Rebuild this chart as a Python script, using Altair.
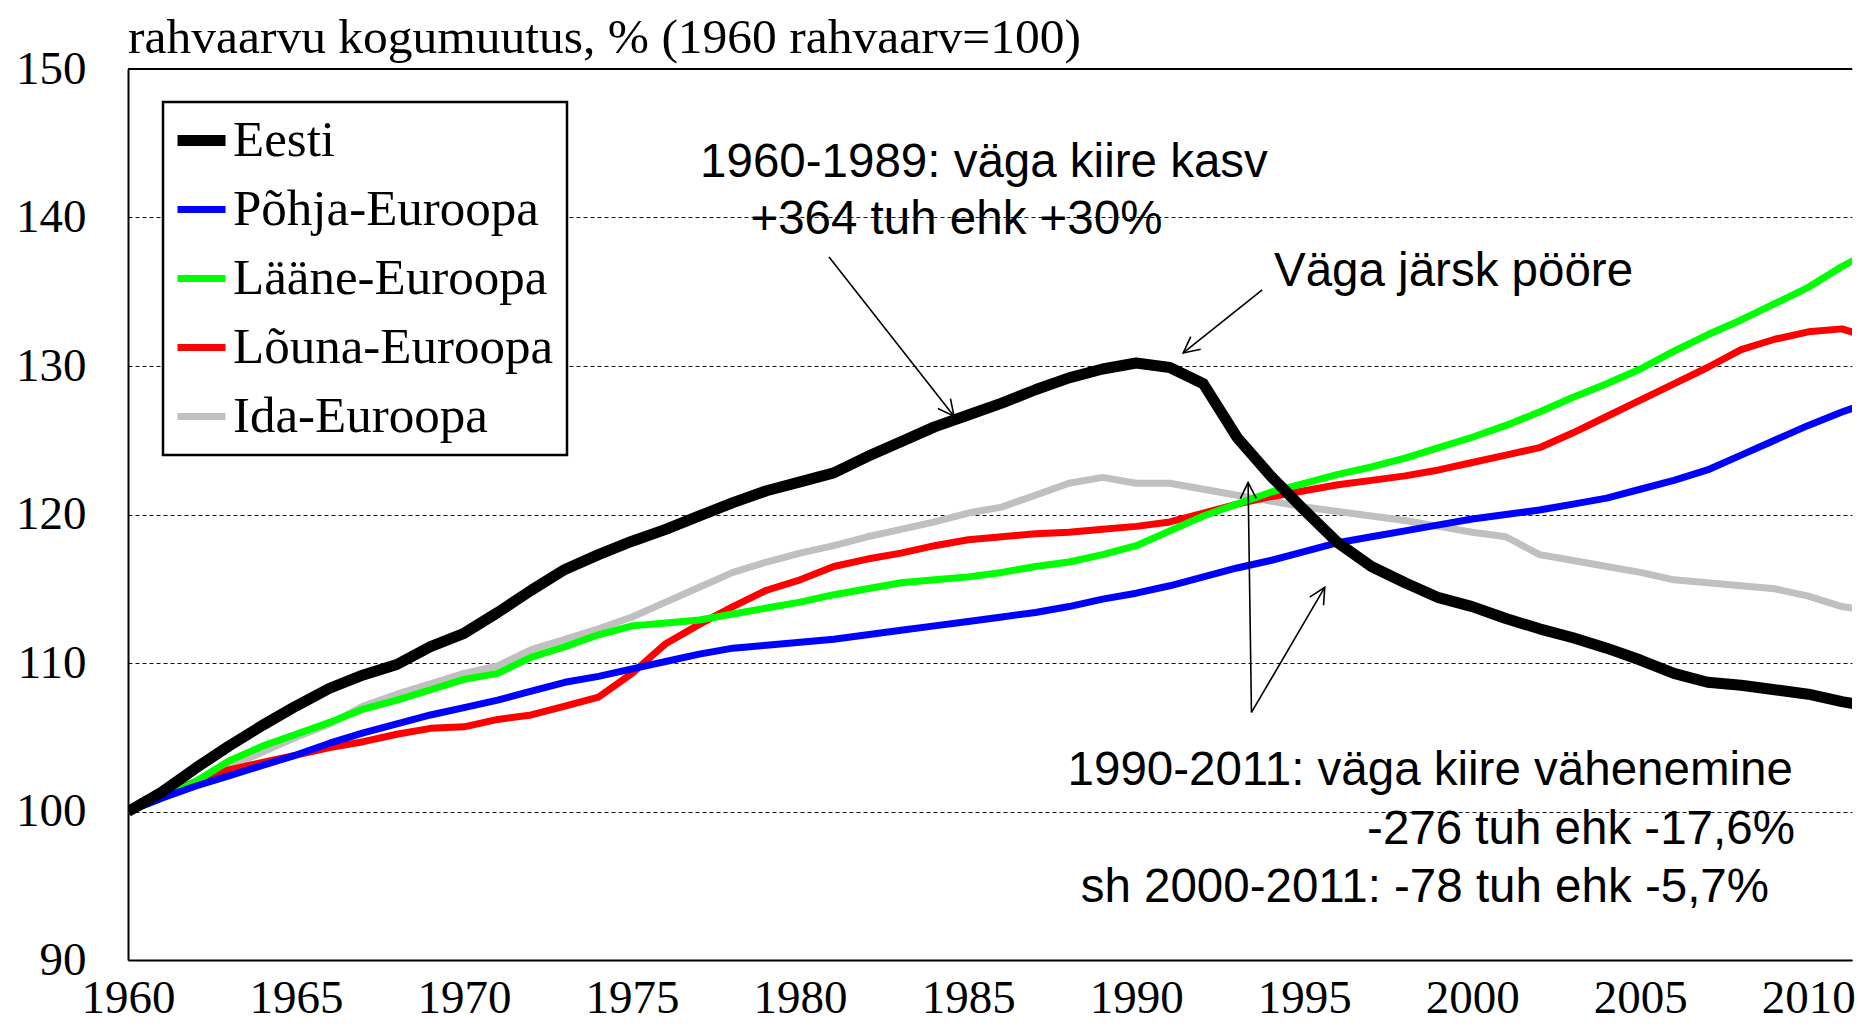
import math
import altair as alt
import pandas as pd

# ---------------- data ----------------
years = list(range(1960, 2013))

eesti = [100.0, 101.3, 102.9, 104.4, 105.8, 107.1, 108.3, 109.2, 109.9, 111.1,
         112.0, 113.4, 114.9, 116.3, 117.3, 118.2, 119.0, 119.9, 120.8, 121.6,
         122.2, 122.8, 123.9, 124.9, 125.9, 126.7, 127.5, 128.4, 129.2, 129.8,
         130.2, 129.9, 128.8, 125.2, 122.6, 120.3, 118.1, 116.5, 115.4, 114.4,
         113.8, 113.0, 112.3, 111.7, 111.0, 110.2, 109.3, 108.7, 108.5, 108.2,
         107.9, 107.4, 107.0]
pohja = [100.0, 100.9, 101.7, 102.4, 103.1, 103.8, 104.6, 105.3, 105.9, 106.5,
         107.0, 107.5, 108.1, 108.7, 109.1, 109.6, 110.1, 110.6, 111.0, 111.2,
         111.4, 111.6, 111.9, 112.2, 112.5, 112.8, 113.1, 113.4, 113.8, 114.3,
         114.7, 115.2, 115.8, 116.4, 116.9, 117.5, 118.1, 118.5, 118.9, 119.3,
         119.7, 120.0, 120.3, 120.7, 121.1, 121.7, 122.3, 123.0, 124.0, 125.0,
         126.0, 126.9, 127.7]
laane = [100.0, 100.9, 102.0, 103.4, 104.4, 105.2, 106.0, 106.9, 107.5, 108.2,
         108.9, 109.3, 110.4, 111.1, 111.9, 112.5, 112.7, 112.9, 113.3, 113.7,
         114.1, 114.6, 115.0, 115.4, 115.6, 115.8, 116.1, 116.5, 116.8, 117.3,
         117.9, 118.9, 119.9, 120.7, 121.5, 122.1, 122.7, 123.2, 123.8, 124.5,
         125.2, 126.0, 126.9, 127.9, 128.8, 129.8, 131.0, 132.1, 133.1, 134.2,
         135.3, 136.7, 137.9]
louna = [100.0, 101.0, 102.0, 102.8, 103.3, 103.8, 104.3, 104.7, 105.2, 105.6,
         105.7, 106.2, 106.5, 107.1, 107.7, 109.3, 111.3, 112.6, 113.8, 114.9,
         115.6, 116.5, 117.0, 117.4, 117.9, 118.3, 118.5, 118.7, 118.8, 119.0,
         119.2, 119.5, 120.1, 120.7, 121.2, 121.6, 122.0, 122.3, 122.6, 123.0,
         123.5, 124.0, 124.5, 125.5, 126.6, 127.7, 128.8, 129.9, 131.1, 131.8,
         132.3, 132.5, 131.8]
ida = [100.0, 101.1, 102.0, 103.0, 104.0, 105.0, 105.9, 107.1, 107.9, 108.6,
       109.3, 109.8, 110.9, 111.6, 112.3, 113.1, 114.1, 115.1, 116.1, 116.8,
       117.4, 117.9, 118.5, 119.0, 119.5, 120.1, 120.5, 121.3, 122.1, 122.5,
       122.1, 122.1, 121.7, 121.3, 120.9, 120.5, 120.2, 119.9, 119.6, 119.2,
       118.8, 118.5, 117.3, 116.9, 116.5, 116.1, 115.6, 115.4, 115.2, 115.0,
       114.5, 113.8, 113.5]

series_names = ["Eesti", "Põhja-Euroopa", "Lääne-Euroopa", "Lõuna-Euroopa", "Ida-Euroopa"]
series_values = [eesti, pohja, laane, louna, ida]

x_ticks = [1960, 1965, 1970, 1975, 1980, 1985, 1990, 1995, 2000, 2005, 2010]
y_ticks = [90, 100, 110, 120, 130, 140, 150]

title_text = "rahvaarvu kogumuutus, % (1960 rahvaarv=100)"

note_center_text = ["1960-1989: väga kiire kasv", "+364 tuh ehk +30%"]
note_center_x = [1985.47, 1984.65]
note_center_y = [143.67, 139.83]

note_left_text = ["Väga järsk pööre"]
note_left_x = [1994.10]
note_left_y = [136.33]

note_right_text = ["1990-2011: väga kiire vähenemine", "-276 tuh ehk -17,6%",
                   "sh 2000-2011: -78 tuh ehk -5,7%"]
note_right_x = [2009.54, 2009.60, 2008.83]
note_right_y = [102.73, 98.75, 94.85]

arrow_x1 = [1980.86, 1993.75, 1993.43, 1993.43]
arrow_y1 = [137.34, 135.12, 106.67, 106.67]
arrow_x2 = [1984.58, 1991.40, 1993.33, 1995.61]
arrow_y2 = [126.62, 130.88, 122.15, 115.09]

# ---------------- styles ----------------
series_colors = ["#000000", "#0000FF", "#00FF00", "#FF0000", "#C0C0C0"]
line_widths = {"Eesti": 11, "Põhja-Euroopa": 7, "Lääne-Euroopa": 7,
               "Lõuna-Euroopa": 7, "Ida-Euroopa": 7}
draw_order = ["Ida-Euroopa", "Lõuna-Euroopa", "Lääne-Euroopa", "Põhja-Euroopa", "Eesti"]

SERIF = "Liberation Serif"
SANS = "Liberation Sans"

X_MIN, X_MAX = 1960, 2011.3
Y_MIN, Y_MAX = 90, 150
W, H = 1724, 891

rows = []
for name, vals in zip(series_names, series_values):
    for yr, v in zip(years, vals):
        rows.append({"series": name, "year": yr, "value": v})
df = pd.DataFrame(rows)

x_scale = alt.Scale(domain=[X_MIN, X_MAX], nice=False, zero=False)
y_scale = alt.Scale(domain=[Y_MIN, Y_MAX], nice=False, zero=False)

x_axis = alt.Axis(values=x_ticks, format="d", title=None, grid=False, ticks=False,
                  domain=True, domainColor="black", domainWidth=2,
                  labelFont=SERIF, labelFontSize=47, labelColor="black",
                  labelPadding=15, labelFlush=False, labelOverlap=False)
y_axis = alt.Axis(values=y_ticks, title=None, grid=True, gridColor="#111111",
                  gridDash=[4, 3], gridWidth=1, ticks=False,
                  domain=True, domainColor="black", domainWidth=2,
                  labelFont=SERIF, labelFontSize=47, labelColor="black",
                  labelPadding=42, labelOverlap=False)


def X(field):
    return alt.X(field, scale=x_scale, axis=x_axis)


def Y(field):
    return alt.Y(field, scale=y_scale, axis=y_axis)


legend = alt.Legend(
    title=None, orient="none", legendX=35, legendY=33,
    symbolType="stroke", symbolSize=2304,
    symbolStrokeWidth=alt.ExprRef("datum.value === 'Eesti' ? 11 : 7"),
    labelFont=SERIF, labelFontSize=51, labelColor="black",
    labelOffset=6, labelLimit=0, padding=13, rowPadding=17,
    strokeColor="black", fillColor="white",
)
color = alt.Color("series:N", scale=alt.Scale(domain=series_names, range=series_colors),
                  legend=legend)

layers = []
for name in draw_order:
    layers.append(
        alt.Chart(df)
        .transform_filter(alt.datum.series == name)
        .mark_line(strokeWidth=line_widths[name], clip=True, strokeJoin="round")
        .encode(x=X("year:Q"), y=Y("value:Q"), color=color)
    )

frame_df = pd.DataFrame({"k": [0]})
top_border = (
    alt.Chart(frame_df)
    .mark_rule(color="black", strokeWidth=2)
    .encode(x=alt.value(0), x2=alt.value(W), y=alt.value(0))
)
title_mark = (
    alt.Chart(frame_df)
    .mark_text(text=title_text, align="left", baseline="alphabetic", font=SERIF,
               fontSize=49.5, color="black")
    .encode(x=alt.value(0), y=alt.value(-16))
)

arrows_df = pd.DataFrame({"x1": arrow_x1, "y1": arrow_y1, "x2": arrow_x2, "y2": arrow_y2})
arrow_lines = (
    alt.Chart(arrows_df)
    .mark_rule(color="black", strokeWidth=1.6)
    .encode(x=X("x1:Q"), y=Y("y1:Q"), x2="x2:Q", y2="y2:Q")
)

px_per_year = W / (X_MAX - X_MIN)
px_per_unit = H / (Y_MAX - Y_MIN)
angles = []
for a, b, c, d in zip(arrow_x1, arrow_y1, arrow_x2, arrow_y2):
    dx = (c - a) * px_per_year
    dy = -(d - b) * px_per_unit
    angles.append(math.degrees(math.atan2(dx, -dy)) % 360)

heads_df = pd.DataFrame({"x": arrow_x2, "y": arrow_y2, "ang": angles})
heads = (
    alt.Chart(heads_df)
    .mark_point(shape="M -0.5 1 L 0 0 L 0.5 1", filled=False, color="black",
                strokeWidth=1.6, size=1024, opacity=1)
    .encode(x=X("x:Q"), y=Y("y:Q"), angle=alt.Angle("ang:Q", scale=None))
)


def notes(texts, xs, ys, align):
    d = pd.DataFrame({"text": texts, "x": xs, "y": ys})
    return (
        alt.Chart(d)
        .mark_text(align=align, baseline="middle", font=SANS, fontSize=47.5, color="black")
        .encode(x=X("x:Q"), y=Y("y:Q"), text="text:N")
    )


chart = (
    alt.layer(
        *layers,
        top_border,
        title_mark,
        arrow_lines,
        heads,
        notes(note_center_text, note_center_x, note_center_y, "center"),
        notes(note_left_text, note_left_x, note_left_y, "left"),
        notes(note_right_text, note_right_x, note_right_y, "right"),
    )
    .properties(
        width=W,
        height=H,
        autosize=alt.AutoSizeParams(type="none"),
        padding={"left": 120, "top": 61, "right": 3, "bottom": 62},
    )
    .configure_view(stroke=None)
    .configure_legend(strokeWidth=2.5)
)

chart.save("out.html", embed_options={"renderer": "svg", "actions": False})
